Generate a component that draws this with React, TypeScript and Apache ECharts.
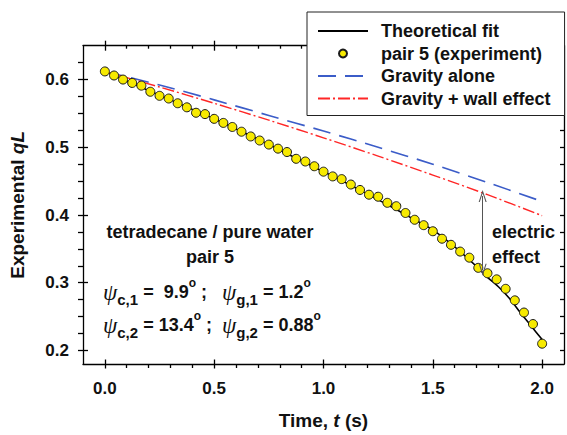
import React, { useEffect, useRef } from 'react';
import * as echarts from 'echarts';

// ---- data ----
const expTime = [
  0, 0.042, 0.083, 0.125, 0.167, 0.208, 0.25, 0.292, 0.333, 0.375, 0.417, 0.458,
  0.5, 0.542, 0.583, 0.625, 0.667, 0.708, 0.75, 0.792, 0.833, 0.875, 0.917, 0.958,
  1.0, 1.042, 1.083, 1.125, 1.167, 1.208, 1.25, 1.292, 1.333, 1.375, 1.417, 1.458,
  1.5, 1.542, 1.583, 1.625, 1.667, 1.708, 1.75, 1.792, 1.833, 1.875, 1.917, 1.958, 2.0,
];
const expQL = [
  0.612, 0.606, 0.600, 0.595, 0.591, 0.582, 0.576, 0.572, 0.565, 0.559, 0.551, 0.549,
  0.542, 0.536, 0.530, 0.523, 0.516, 0.510, 0.504, 0.498, 0.493, 0.483, 0.479, 0.472,
  0.464, 0.457, 0.453, 0.445, 0.437, 0.430, 0.427, 0.418, 0.413, 0.403, 0.393, 0.385,
  0.376, 0.365, 0.356, 0.346, 0.337, 0.322, 0.314, 0.305, 0.291, 0.274, 0.256, 0.239, 0.210,
];
const fitTime = [0, 0.1, 0.2, 0.3, 0.4, 0.5, 0.6, 0.7, 0.8, 0.9, 1.0, 1.1, 1.2, 1.3, 1.4, 1.5, 1.6, 1.65, 1.7, 1.75, 1.8, 1.85, 1.9, 1.95, 2.0];
const fitQL = [0.612, 0.598, 0.584, 0.570, 0.556, 0.542, 0.527, 0.512, 0.496, 0.480, 0.464, 0.448, 0.431, 0.414, 0.396, 0.378, 0.353, 0.339, 0.324, 0.308, 0.294, 0.277, 0.256, 0.236, 0.216];
const modelTime = [0, 0.25, 0.5, 0.75, 1.0, 1.25, 1.5, 1.75, 2.0];
const gravityQL = [0.612, 0.592, 0.570, 0.547, 0.524, 0.500, 0.475, 0.448, 0.420];
const wallQL = [0.612, 0.589, 0.565, 0.540, 0.514, 0.487, 0.459, 0.430, 0.399];
const arrowTime = 1.728;
const arrowTop = 0.428;
const arrowBottom = 0.319;

const xMajor = [0, 0.5, 1.0, 1.5, 2.0];
const xMinor = [0.1, 0.2, 0.3, 0.4, 0.6, 0.7, 0.8, 0.9, 1.1, 1.2, 1.3, 1.4, 1.6, 1.7, 1.8, 1.9];
const yMajor = [0.2, 0.3, 0.4, 0.5, 0.6];
const yMinor = [0.225, 0.25, 0.275, 0.325, 0.35, 0.375, 0.425, 0.45, 0.475, 0.525, 0.55, 0.575, 0.625];

const seriesNames = ['Theoretical fit', 'pair 5 (experiment)', 'Gravity alone', 'Gravity + wall effect'];

const FONT = 'Arial, "Liberation Sans", sans-serif';
const LW = 1.3;
const OPEN_ARROW = 'path://M0,10 L5,0 L10,10 L8.6,10 L5,2.6 L1.4,10 Z';

function zip(a: number[], b: number[]) {
  return a.map((v, i) => [v, b[i]]);
}

function xAx(position: string, extra: any) {
  return {
    type: 'value', min: -0.1, max: 2.1, position,
    splitLine: { show: false },
    axisLine: { show: false, onZero: false, lineStyle: { color: '#000', width: LW } },
    axisLabel: { show: false },
    axisTick: { show: false },
    ...extra,
  };
}
function yAx(position: string, extra: any) {
  return {
    type: 'value', min: 0.18, max: 0.65, position,
    splitLine: { show: false },
    axisLine: { show: false, onZero: false, lineStyle: { color: '#000', width: LW } },
    axisLabel: { show: false },
    axisTick: { show: false },
    ...extra,
  };
}
function tick(values: number[], length: number, inside: boolean) {
  return { show: true, customValues: values, length, inside, lineStyle: { color: '#000', width: LW } };
}

export default function App() {
  const ref = useRef<HTMLDivElement>(null);
  useEffect(() => {
    document.body.style.margin = '0';
    const chart = echarts.init(ref.current!, undefined, { renderer: 'svg' });
    const lineOn = { show: true, onZero: false, lineStyle: { color: '#000', width: LW } };
    const tickLabel = { fontSize: 17, fontWeight: 'bold', fontFamily: FONT, color: '#111' };
    const txt = { fontSize: 18, fontWeight: 'bold', fontFamily: FONT, fill: '#111' };
    const hideSym = { opacity: 0 };
    chart.setOption({
      animation: false,
      backgroundColor: '#fff',
      grid: { left: 82.5, right: 3, top: 45.7, bottom: 69.5, containLabel: false },
      legend: {
        orient: 'vertical', left: 307, top: 12,
        padding: [10, 14, 8, 10],
        itemWidth: 50, itemHeight: 8, itemGap: 4.5,
        backgroundColor: '#fff', borderColor: '#222', borderWidth: 1,
        textStyle: { fontSize: 18, fontWeight: 'bold', fontFamily: FONT, color: '#111', padding: [0, 0, 0, 8] },
        data: [
          { name: seriesNames[0], itemStyle: hideSym },
          { name: seriesNames[1] },
          { name: seriesNames[2], itemStyle: hideSym },
          { name: seriesNames[3], itemStyle: hideSym },
        ],
        z: 10,
      },
      xAxis: [
        xAx('bottom', {
          axisLine: lineOn,
          axisLabel: { show: true, customValues: xMajor, formatter: (v: number) => v.toFixed(1), margin: 16, ...tickLabel },
          axisTick: tick(xMajor, 4.5, false),
          name: 'Time, {i|t} (s)', nameLocation: 'middle', nameGap: 47,
          nameTextStyle: {
            fontSize: 19, fontWeight: 'bold', fontFamily: FONT, color: '#111',
            rich: { i: { fontSize: 19, fontWeight: 'bold', fontStyle: 'italic', fontFamily: FONT, color: '#111' } },
          },
        }),
        xAx('bottom', { axisTick: tick(xMajor, 4.5, true) }),
        xAx('bottom', { axisTick: tick(xMinor, 4, false) }),
        xAx('top', { axisLine: lineOn, axisTick: tick(xMajor, 5, false) }),
        xAx('top', { axisTick: tick(xMajor, 5, true) }),
        xAx('top', { axisTick: tick(xMinor, 3, true) }),
      ],
      yAxis: [
        yAx('left', {
          axisLine: lineOn,
          axisLabel: { show: true, customValues: yMajor, formatter: (v: number) => v.toFixed(1), margin: 14, ...tickLabel },
          axisTick: tick(yMajor, 5, false),
          name: 'Experimental {i|qL}', nameLocation: 'middle', nameGap: 56,
          nameTextStyle: {
            fontSize: 19, fontWeight: 'bold', fontFamily: FONT, color: '#111',
            rich: { i: { fontSize: 19, fontWeight: 'bold', fontStyle: 'italic', fontFamily: FONT, color: '#111' } },
          },
        }),
        yAx('left', { axisTick: tick(yMajor, 5, true) }),
        yAx('left', { axisTick: tick(yMinor, 5, false) }),
        yAx('right', { axisLine: lineOn, axisTick: tick(yMajor.concat(yMinor), 4, true) }),
      ],
      series: [
        {
          name: seriesNames[0], type: 'line', data: zip(fitTime, fitQL), smooth: 0.3,
          symbol: 'none', lineStyle: { color: '#000', width: 1.6 }, itemStyle: { color: '#000' }, z: 2,
        },
        {
          name: seriesNames[1], type: 'scatter', data: zip(expTime, expQL), symbol: 'circle', symbolSize: 9,
          itemStyle: { color: '#f7ea00', borderColor: '#1a1a1a', borderWidth: 1, opacity: 1 }, z: 5,
        },
        {
          name: seriesNames[2], type: 'line', data: zip(modelTime, gravityQL), smooth: 0.3,
          symbol: 'none', lineStyle: { color: '#3b5cc8', width: 1.6, type: [18, 9] }, itemStyle: { color: '#3b5cc8' }, z: 3,
        },
        {
          name: seriesNames[3], type: 'line', data: zip(modelTime, wallQL), smooth: 0.3,
          symbol: 'none', lineStyle: { color: '#ff2626', width: 1.4, type: [12, 3, 2, 3] }, itemStyle: { color: '#ff2626' }, z: 3,
        },
        {
          name: 'electric effect arrow', type: 'line', data: [], z: 7, symbol: 'none',
          markLine: {
            silent: true, symbol: [OPEN_ARROW, OPEN_ARROW], symbolSize: [8, 12],
            label: { show: false }, z: 7,
            lineStyle: { color: '#555', width: 1, type: 'solid' },
            itemStyle: { color: '#555' },
            data: [[{ coord: [arrowTime, arrowTop] }, { coord: [arrowTime, arrowBottom] }]],
          },
        },
      ],
      graphic: [
        { type: 'text', x: 210, y: 232, style: { text: 'tetradecane / pure water', ...txt, align: 'center', verticalAlign: 'middle' } },
        { type: 'text', x: 210, y: 257, style: { text: 'pair 5', ...txt, align: 'center', verticalAlign: 'middle' } },
        { type: 'text', x: 492, y: 232, style: { text: 'electric', ...txt, align: 'left', verticalAlign: 'middle' } },
        { type: 'text', x: 492, y: 257, style: { text: 'effect', ...txt, align: 'left', verticalAlign: 'middle' } },
        ...[
          { y: 292, text: '{p|ψ}{s|c,1}{t| =  9.9}{u|o}{t| ;   }{p|ψ}{s|g,1}{t| = 1.2}{u|o}' },
          { y: 325, text: '{p|ψ}{s|c,2}{t| = 13.4}{u|o}{t| ;  }{p|ψ}{s|g,2}{t| = 0.88}{u|o}' },
        ].map((l) => ({
          type: 'text', x: 103, y: l.y,
          style: {
            text: l.text, align: 'left', verticalAlign: 'middle', fill: '#111',
            rich: {
              p: { fontSize: 23, fontStyle: 'italic', fontFamily: '"Liberation Serif", serif', lineHeight: 30, verticalAlign: 'middle', fill: '#111' },
              s: { fontSize: 15, fontWeight: 'bold', fontFamily: FONT, lineHeight: 14, verticalAlign: 'bottom', fill: '#111' },
              t: { fontSize: 18, fontWeight: 'bold', fontFamily: FONT, lineHeight: 30, verticalAlign: 'middle', fill: '#111' },
              u: { fontSize: 12, fontWeight: 'bold', fontFamily: FONT, lineHeight: 12, verticalAlign: 'top', fill: '#111' },
            },
          },
        })),
      ],
    });
    return () => chart.dispose();
  }, []);
  return <div ref={ref} style={{ width: 567, height: 435 }} />;
}
